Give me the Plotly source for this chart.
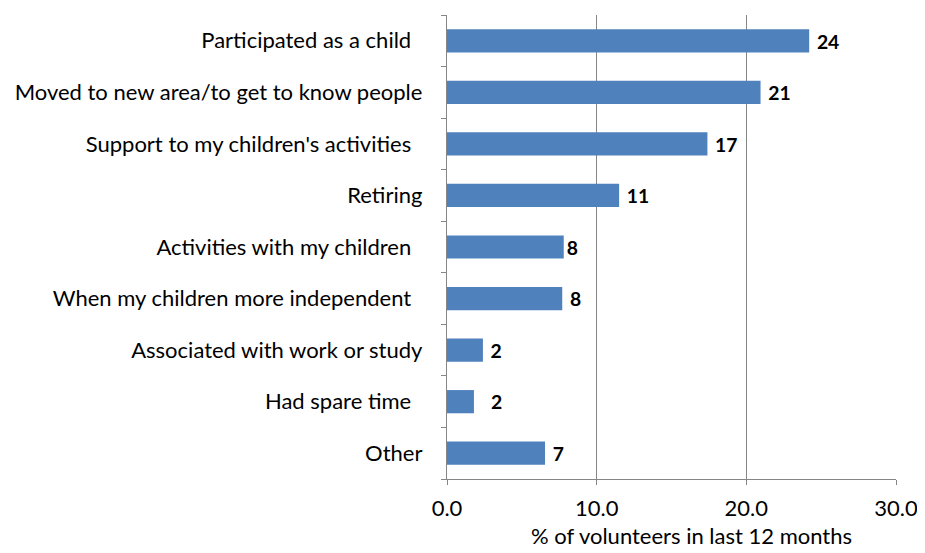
import plotly.graph_objects as go

categories = [
    "Participated as a child\u00a0\u00a0",
    "Moved to new area/to get to know people",
    "Support to my children's activities\u00a0\u00a0",
    "Retiring",
    "Activities with my children\u00a0\u00a0",
    "When my children more independent\u00a0\u00a0",
    "Associated with work or study",
    "Had spare time\u00a0\u00a0",
    "Other",
]
values = [24.2, 20.95, 17.4, 11.5, 7.8, 7.7, 2.4, 1.8, 6.55]
labels = ["\u00a024", "\u00a021", "\u00a017", "\u00a011", "8", "\u00a08",
          "\u00a02", "\u00a0\u00a0\u00a02", "\u00a07"]

FONT = "Lato"
GRID = "#868686"

fig = go.Figure(go.Bar(
    x=values,
    y=categories,
    orientation="h",
    marker=dict(color="#4F81BD", line=dict(color="#4F81BD", width=0)),
    text=labels,
    textposition="outside",
    textfont=dict(family=FONT, size=20, color="black", weight="bold"),
    cliponaxis=False,
    width=0.45,
))

fig.update_layout(
    width=917, height=545,
    margin=dict(l=438, r=25, t=7, b=74),
    paper_bgcolor="white", plot_bgcolor="white",
    font=dict(family=FONT, size=22, color="black"),
    showlegend=False,
    xaxis=dict(
        range=[0, 30], dtick=10, tickformat=".1f",
        showgrid=True, gridcolor=GRID, gridwidth=1.3,
        showline=True, linecolor=GRID, linewidth=1.3,
        ticks="outside", ticklen=5, tickcolor=GRID, tickwidth=1.3,
        zeroline=False,
        tickfont=dict(family=FONT, size=22),
        ticklabelstandoff=4,
    ),
    yaxis=dict(
        categoryorder="array", categoryarray=categories[::-1],
        showline=True, linecolor=GRID, linewidth=1.3,
        ticks="outside", ticklen=5, tickcolor=GRID, tickwidth=1.3,
        tickson="boundaries",
        showgrid=False,
        tickfont=dict(family=FONT, size=22),
        ticklabelstandoff=19,
    ),
)
fig.add_annotation(
    text="% of volunteers in last 12 months",
    x=(692 - 446) / (898 - 446), xref="paper",
    y=-0.122, yref="paper", yanchor="middle",
    showarrow=False, font=dict(family=FONT, size=22),
)

fig.write_html("out.html")
